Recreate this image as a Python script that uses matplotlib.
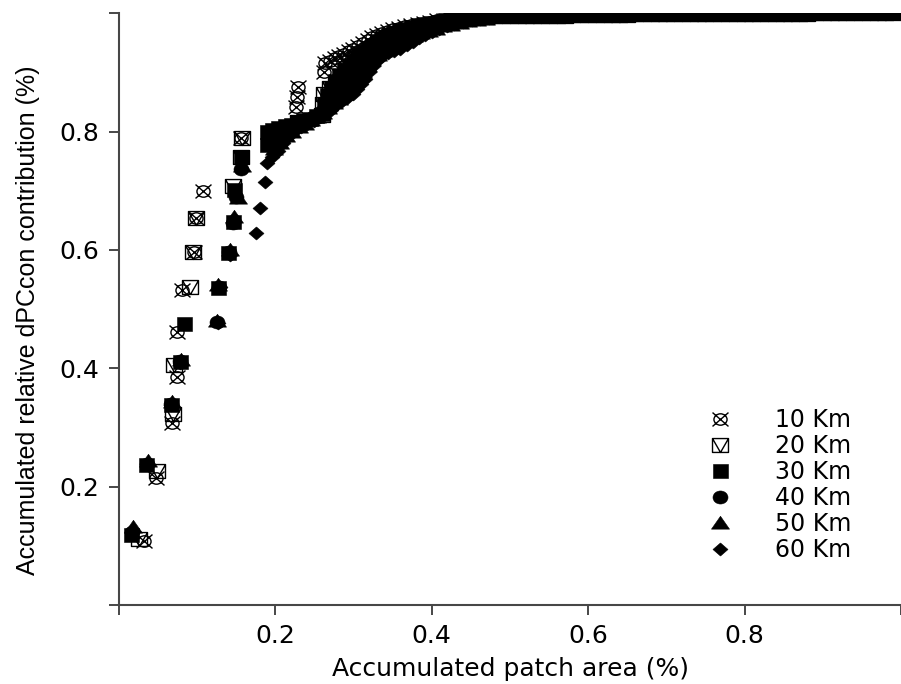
import matplotlib
matplotlib.use("Agg")
import matplotlib.pyplot as plt
from matplotlib.path import Path

# ---------------------------------------------------------------------------
# Data: cumulative patch area vs cumulative relative dPCcon contribution
# for six dispersal distance thresholds.
# ---------------------------------------------------------------------------
labels = ["10 Km", "20 Km", "30 Km", "40 Km", "50 Km", "60 Km"]

area_10 = [0.032, 0.048, 0.068, 0.074, 0.075, 0.081, 0.096, 0.099, 0.108, 0.156,
           0.227, 0.228, 0.229,
           0.262, 0.264, 0.270, 0.276, 0.282, 0.288, 0.294, 0.300, 0.306, 0.312,
           0.318, 0.324, 0.330, 0.337, 0.344, 0.351, 0.358, 0.366, 0.374, 0.382,
           0.390, 0.398, 0.407, 0.416, 0.425, 0.434, 0.443, 0.452, 0.461, 0.470]
contrib_10 = [0.108, 0.215, 0.308, 0.385, 0.461, 0.533, 0.596, 0.654, 0.700, 0.790,
              0.842, 0.859, 0.876,
              0.901, 0.916, 0.920, 0.924, 0.928, 0.932, 0.936, 0.940, 0.945, 0.950,
              0.955, 0.960, 0.964, 0.967, 0.970, 0.973, 0.976, 0.978, 0.980, 0.982,
              0.984, 0.986, 0.988, 0.989, 0.990, 0.991, 0.992, 0.993, 0.994, 0.994]

area_20 = [0.026, 0.049, 0.069, 0.070, 0.091, 0.095, 0.099, 0.146, 0.156, 0.157,
           0.229,
           0.260, 0.261, 0.262, 0.270, 0.278, 0.286, 0.294, 0.302, 0.310, 0.318,
           0.326, 0.334, 0.342, 0.350, 0.358, 0.367, 0.376, 0.385, 0.395, 0.405,
           0.415, 0.426, 0.437, 0.448, 0.459, 0.470]
contrib_20 = [0.112, 0.227, 0.322, 0.405, 0.538, 0.596, 0.654, 0.708, 0.757, 0.790,
              0.816,
              0.828, 0.846, 0.864, 0.873, 0.882, 0.891, 0.900, 0.910, 0.920, 0.929,
              0.938, 0.946, 0.953, 0.959, 0.964, 0.968, 0.972, 0.976, 0.979, 0.982,
              0.985, 0.988, 0.990, 0.992, 0.993, 0.994]

area_30 = [0.016, 0.035, 0.067, 0.078, 0.084, 0.127, 0.140, 0.146, 0.147, 0.156,
           0.189, 0.190,
           0.196, 0.204, 0.212, 0.220, 0.228, 0.236, 0.244, 0.252, 0.260, 0.263,
           0.266, 0.271, 0.276, 0.282, 0.288, 0.294, 0.300, 0.306, 0.312, 0.318,
           0.324, 0.330, 0.337, 0.344, 0.351, 0.358, 0.366, 0.374, 0.382, 0.390,
           0.399, 0.408, 0.417, 0.427, 0.437, 0.447, 0.457, 0.467]
contrib_30 = [0.118, 0.236, 0.338, 0.410, 0.475, 0.536, 0.595, 0.647, 0.702, 0.757,
              0.777, 0.800,
              0.803, 0.806, 0.809, 0.812, 0.816, 0.819, 0.822, 0.826, 0.830, 0.846,
              0.862, 0.874, 0.885, 0.895, 0.904, 0.912, 0.920, 0.927, 0.934, 0.941,
              0.947, 0.953, 0.958, 0.963, 0.967, 0.971, 0.974, 0.977, 0.980, 0.982,
              0.984, 0.986, 0.988, 0.990, 0.991, 0.992, 0.993, 0.994]

area_40 = [0.017, 0.036, 0.067, 0.078, 0.126, 0.128, 0.141, 0.146, 0.150, 0.156,
           0.200, 0.208, 0.216, 0.224, 0.232, 0.240, 0.248, 0.256, 0.263, 0.270,
           0.276, 0.282, 0.288, 0.294, 0.300, 0.306, 0.312, 0.318, 0.324, 0.331,
           0.338, 0.345, 0.352, 0.360, 0.368, 0.376, 0.384, 0.392, 0.401, 0.410,
           0.420, 0.430, 0.440, 0.450, 0.461, 0.472]
contrib_40 = [0.124, 0.238, 0.340, 0.412, 0.478, 0.538, 0.596, 0.645, 0.690, 0.737,
              0.776, 0.788, 0.797, 0.805, 0.812, 0.818, 0.824, 0.830, 0.838, 0.848,
              0.857, 0.866, 0.875, 0.884, 0.893, 0.902, 0.911, 0.920, 0.929, 0.937,
              0.944, 0.950, 0.955, 0.960, 0.964, 0.968, 0.972, 0.975, 0.978, 0.981,
              0.984, 0.986, 0.988, 0.990, 0.992, 0.993]

area_50 = [0.018, 0.037, 0.068, 0.079, 0.125, 0.127, 0.142, 0.147, 0.152, 0.157,
           0.198, 0.206, 0.214, 0.222, 0.230, 0.238, 0.246, 0.254, 0.261, 0.268,
           0.275, 0.282, 0.288, 0.294, 0.300, 0.306, 0.312, 0.318, 0.324, 0.331,
           0.338, 0.346, 0.354, 0.362, 0.370, 0.378, 0.387, 0.396, 0.405, 0.415,
           0.425, 0.436, 0.447, 0.458, 0.470]
contrib_50 = [0.131, 0.243, 0.343, 0.414, 0.480, 0.541, 0.600, 0.655, 0.688, 0.742,
              0.770, 0.781, 0.792, 0.800, 0.807, 0.813, 0.819, 0.825, 0.832, 0.840,
              0.848, 0.856, 0.864, 0.872, 0.880, 0.890, 0.900, 0.911, 0.921, 0.930,
              0.937, 0.943, 0.948, 0.953, 0.958, 0.962, 0.966, 0.970, 0.974, 0.978,
              0.981, 0.984, 0.987, 0.989, 0.991]

area_60 = [0.017, 0.036, 0.067, 0.078, 0.127, 0.129, 0.142, 0.176, 0.181, 0.187,
           0.190,
           0.196, 0.203, 0.210, 0.217, 0.225, 0.233, 0.241, 0.249, 0.257, 0.264,
           0.271, 0.278, 0.285, 0.292, 0.299, 0.305, 0.310, 0.315, 0.320, 0.325,
           0.331, 0.337, 0.344, 0.352, 0.360, 0.368, 0.376, 0.384, 0.392, 0.400,
           0.409, 0.419, 0.429, 0.440, 0.451, 0.462, 0.473]
contrib_60 = [0.124, 0.238, 0.338, 0.409, 0.477, 0.537, 0.592, 0.629, 0.671, 0.715,
              0.747,
              0.757, 0.768, 0.780, 0.792, 0.803, 0.808, 0.813, 0.818, 0.824, 0.830,
              0.837, 0.845, 0.851, 0.857, 0.863, 0.872, 0.880, 0.889, 0.900, 0.911,
              0.921, 0.928, 0.933, 0.936, 0.940, 0.946, 0.952, 0.958, 0.964, 0.969,
              0.974, 0.979, 0.982, 0.985, 0.988, 0.990, 0.992]

# Long tail of small patches, identical for every threshold
tail_area = [0.48, 0.49, 0.50, 0.51, 0.52, 0.53, 0.54, 0.55, 0.56, 0.57,
             0.58, 0.59, 0.60, 0.61, 0.62, 0.63, 0.64, 0.65, 0.66, 0.67,
             0.68, 0.69, 0.70, 0.71, 0.72, 0.73, 0.74, 0.75, 0.76, 0.77,
             0.78, 0.79, 0.80, 0.81, 0.82, 0.83, 0.84, 0.85, 0.86, 0.87,
             0.88, 0.89, 0.90, 0.91, 0.92, 0.93, 0.94, 0.95, 0.96, 0.97,
             0.98, 0.99]
tail_contrib = [0.995, 0.995, 0.995, 0.995, 0.996, 0.996, 0.996, 0.996, 0.996, 0.996,
                0.997, 0.997, 0.997, 0.997, 0.997, 0.997, 0.997, 0.997, 0.998, 0.998,
                0.998, 0.998, 0.998, 0.998, 0.998, 0.998, 0.998, 0.998, 0.999, 0.999,
                0.999, 0.999, 0.999, 0.999, 0.999, 0.999, 0.999, 0.999, 0.999, 0.999,
                0.999, 1.000, 1.000, 1.000, 1.000, 1.000, 1.000, 1.000, 1.000, 1.000,
                1.000, 1.000]

areas = [area_10, area_20, area_30, area_40, area_50, area_60]
contribs = [contrib_10, contrib_20, contrib_30, contrib_40, contrib_50, contrib_60]

xticks = [0.0, 0.2, 0.4, 0.6, 0.8, 1.0]
xtick_labels = ["", "0.2", "0.4", "0.6", "0.8", ""]
yticks = [0.0, 0.2, 0.4, 0.6, 0.8, 1.0]
ytick_labels = ["", "0.2", "0.4", "0.6", "0.8", ""]

# ---------------------------------------------------------------------------
# Plotting symbols (R-style pch 13..18), slightly wider than tall
# ---------------------------------------------------------------------------
SX = 1.15
M, L, C = Path.MOVETO, Path.LINETO, Path.CLOSEPOLY
circ = Path.unit_circle()


def scaled_circle(r):
    return Path(circ.vertices * [r * SX, r], circ.codes)


circle_cross = Path.make_compound_path(
    scaled_circle(0.82),
    Path([(-SX, -1), (SX, 1)], [M, L]),
    Path([(-SX, 1), (SX, -1)], [M, L]),
)
square_vee = Path.make_compound_path(
    Path([(-SX, -1), (SX, -1), (SX, 1), (-SX, 1), (-SX, -1)], [M, L, L, L, C]),
    Path([(-SX, 1), (0, -1), (SX, 1)], [M, L, L]),
)
square_solid = Path([(-SX, -1), (SX, -1), (SX, 1), (-SX, 1), (-SX, -1)],
                    [M, L, L, L, C])
circle_solid = scaled_circle(1.0)
triangle_solid = Path([(-SX, -0.72), (SX, -0.72), (0, 0.92), (-SX, -0.72)],
                      [M, L, L, C])
diamond_solid = Path([(0, -1), (SX, 0), (0, 1), (-SX, 0), (0, -1)],
                     [M, L, L, L, C])

styles = [
    dict(marker=circle_cross, ms=11.5, mfc="none", mew=1.0),
    dict(marker=square_vee, ms=11.5, mfc="none", mew=1.0),
    dict(marker=square_solid, ms=10.8, mfc="black", mew=0.4),
    dict(marker=circle_solid, ms=10.8, mfc="black", mew=0.4),
    dict(marker=triangle_solid, ms=13.0, mfc="black", mew=0.4),
    dict(marker=diamond_solid, ms=10.8, mfc="black", mew=0.4),
]

# ---------------------------------------------------------------------------
# Figure
# ---------------------------------------------------------------------------
W, H = 901, 684
fig = plt.figure(figsize=(W / 100, H / 100), dpi=100)
fig.patch.set_facecolor("white")

ax_left, ax_right, ax_bottom, ax_top = 100, 901, 615, 13.3
ax = fig.add_axes([ax_left / W, (H - ax_bottom) / H,
                   (ax_right - ax_left) / W, (ax_bottom - ax_top) / H])
ax.set_xlim(-0.024, 0.9899)
ax.set_ylim(-0.0169, 1.0)

for a, c, lab, st in zip(areas, contribs, labels, styles):
    ax.plot(a + tail_area, c + tail_contrib, linestyle="none",
            mec="black", label=lab, **st)

axis_color = "#474747"
for side in ("top", "right"):
    ax.spines[side].set_visible(False)
for side in ("left", "bottom"):
    ax.spines[side].set_position(("data", 0))
    ax.spines[side].set_bounds(0, 1.0)
    ax.spines[side].set_color(axis_color)
    ax.spines[side].set_linewidth(1.5)

ax.set_xticks(xticks)
ax.set_xticklabels(xtick_labels)
ax.set_yticks(yticks)
ax.set_yticklabels(ytick_labels)
ax.tick_params(axis="both", direction="out", length=7.2, width=1.4,
               color=axis_color, labelsize=18, labelcolor="black")
ax.tick_params(axis="x", pad=6.5)
ax.tick_params(axis="y", pad=7)

fig.text(511 / W, 1 - 676 / H, "Accumulated patch area (%)",
         ha="center", va="baseline", fontsize=18, color="black")
fig.text(35 / W, 1 - 320 / H, "Accumulated relative dPCcon contribution (%)",
         rotation=90, rotation_mode="anchor", ha="center", va="baseline",
         fontsize=18, family="Liberation Sans", color="black")

leg_fs = 17
leg_px = leg_fs * 100 / 72
ax.legend(loc="upper left",
          bbox_to_anchor=((720 - leg_px / 2) / W, 1 - (420 - leg_px / 2) / H),
          bbox_transform=fig.transFigure, frameon=False, numpoints=1,
          fontsize=leg_fs, handlelength=1.0,
          handletextpad=(775 - 720 - leg_px / 2) / leg_px,
          labelspacing=(25.6 - leg_px) / leg_px,
          borderpad=0, borderaxespad=0)

fig.savefig("out.png", dpi=100)
